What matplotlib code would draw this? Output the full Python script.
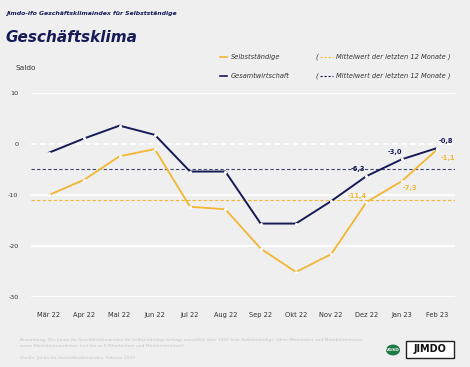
import numpy as np
import matplotlib.pyplot as plt
from matplotlib.patches import Circle, Rectangle

months = ["Mär 22", "Apr 22", "Mai 22", "Jun 22", "Jul 22", "Aug 22",
          "Sep 22", "Okt 22", "Nov 22", "Dez 22", "Jan 23", "Feb 23"]
selbst = [-10.0, -7.0, -2.4, -1.0, -12.3, -12.8, -20.5, -25.1, -21.6, -11.4, -7.3, -1.1]
gesamt = [-1.7, 1.1, 3.6, 1.8, -5.4, -5.4, -15.6, -15.6, -11.2, -6.3, -3.0, -0.8]
mean_selbst = -11.0
mean_gesamt = -4.9
yticks = [10, 0, -10, -20, -30]

NAVY = "#161a56"
ORANGE = "#f2b632"
BG = "#efefef"
W, H = 470, 367

def fx(px):
    return px / W

def fy(py):
    return 1 - py / H

fig = plt.figure(figsize=(4.7, 3.67), dpi=100)
fig.patch.set_facecolor(BG)
plt.rcParams['font.family'] = ['DejaVu Sans']

ax = fig.add_axes([fx(31), fy(297), (455 - 31) / W, (297 - 93) / H])
ax.set_facecolor(BG)
for s in ax.spines.values():
    s.set_visible(False)

x = np.arange(len(months))
ax.set_xlim(-0.51, 11.51)
ax.set_ylim(-30, 10)

# grid
for t in yticks:
    if t == 0:
        ax.axhline(t, color="white", lw=1.3, ls=(0, (3, 2)), zorder=1)
    else:
        ax.axhline(t, color="white", lw=1.3, zorder=1)

ax.axhline(mean_gesamt, color=NAVY, lw=0.8, ls=(0, (3, 2)), alpha=0.8, zorder=2)
ax.axhline(mean_selbst, color=ORANGE, lw=0.8, ls=(0, (3, 2)), zorder=2)

ax.plot(x, selbst, color=ORANGE, lw=1.3, zorder=3, marker="o", ms=1.2,
        mfc="white", mec="white", clip_on=False)
ax.plot(x, gesamt, color=NAVY, lw=1.4, zorder=4, marker="o", ms=1.2,
        mfc="white", mec="white", clip_on=False)

ax.set_yticks(yticks)
ax.set_yticklabels([str(t) for t in yticks], fontsize=4.6, color="#333333")
ax.set_xticks(x)
ax.set_xticklabels(months, fontsize=4.8, color="#333333")
ax.tick_params(length=0, axis="y", pad=9)
ax.tick_params(length=0, axis="x", pad=11)

# value labels
labels = [
    (11, gesamt[11], "-0,8", NAVY, (9, 7)),
    (11, selbst[11], "-1,1", ORANGE, (11, -8)),
    (10, gesamt[10], "-3,0", NAVY, (-7, 7)),
    (10, selbst[10], "-7,3", ORANGE, (8, -7)),
    (9, gesamt[9], "-6,3", NAVY, (-9, 7)),
    (9, selbst[9], "-11,4", ORANGE, (-9, 6)),
]
for xi, yi, txt, col, off in labels:
    ax.annotate(txt, (xi, yi), xytext=off, textcoords="offset pixels",
                ha="center", va="center", fontsize=4.8, fontweight="bold",
                color=col, zorder=5)

# header
fig.text(fx(6), fy(13), "Jimdo-ifo Geschäftsklimaindex für Selbstständige",
         fontsize=4.4, fontweight="bold", fontstyle="italic", color=NAVY,
         va="center", ha="left")
fig.text(fx(5), fy(37), "Geschäftsklima", fontsize=11, fontweight="bold",
         fontstyle="italic", color=NAVY, va="center", ha="left")
fig.text(fx(16), fy(68), "Saldo", fontsize=5.3, color="#333333",
         va="center", ha="left")

# legend
fig.add_artist(plt.Line2D([fx(220), fx(227)], [fy(57), fy(57)], color=ORANGE, lw=1.2))
fig.add_artist(plt.Line2D([fx(220), fx(227)], [fy(76), fy(76)], color=NAVY, lw=1.2))
fig.text(fx(231), fy(57), "Selbstständige", fontsize=4.8, fontstyle="italic",
         color="#333333", va="center", ha="left")
fig.text(fx(231), fy(76), "Gesamtwirtschaft", fontsize=4.8, fontstyle="italic",
         color="#333333", va="center", ha="left")
for py, col in [(57, ORANGE), (76, NAVY)]:
    fig.text(fx(315), fy(py), "(", fontsize=4.8, fontstyle="italic",
             color="#333333", va="center", ha="left")
    fig.add_artist(plt.Line2D([fx(320), fx(333)], [fy(py), fy(py)], color=col,
                              lw=0.8, ls=(0, (2, 1.6))))
    fig.text(fx(336), fy(py), "Mittelwert der letzten 12 Monate )", fontsize=4.8,
             fontstyle="italic", color="#333333", va="center", ha="left")

# footnote
fig.text(fx(20), fy(340), "Anmerkung: Der Jimdo-ifo Geschäftsklimaindex für Selbstständige "
         "befragt monatlich über 1000 Solo-Selbstständige (ohne Mitarbeiter und Mitarbeiterinnen)",
         fontsize=3.2, color="#c4c4c4", va="center", ha="left")
fig.text(fx(20), fy(346), "sowie Kleinstunternehmen (mit bis zu 9 Mitarbeitern und Mitarbeiterinnen).",
         fontsize=3.2, color="#c4c4c4", va="center", ha="left")
fig.text(fx(20), fy(358), "Quelle: Jimdo-ifo Geschäftsklimaindex, Februar 2023",
         fontsize=3.2, color="#c4c4c4", va="center", ha="left")

# logos
fig.add_artist(Circle((fx(393), fy(350)), 7 / W, transform=fig.transFigure,
                      facecolor="#1d7a46", edgecolor="none"))
fig.text(fx(393), fy(350), "VGSD", fontsize=3.2, fontweight="bold", color="white",
         ha="center", va="center")
fig.add_artist(Rectangle((fx(406), fy(358)), 48 / W, 17 / H, transform=fig.transFigure,
                         facecolor="white", edgecolor="#222222", lw=1.0))
fig.text(fx(430), fy(349.5), "JIMDO", fontsize=7, fontweight="bold", color="#111111",
         ha="center", va="center")

fig.savefig("out.png", dpi=100, facecolor=BG)
